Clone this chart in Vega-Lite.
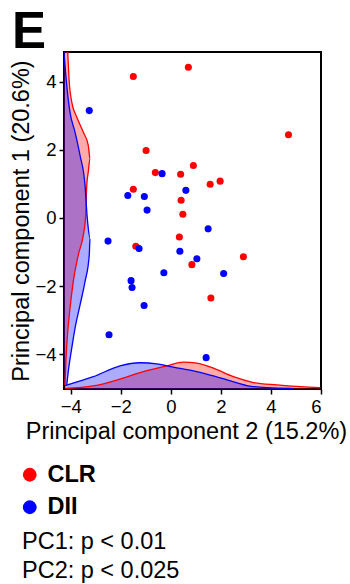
{
  "$schema": "https://vega.github.io/schema/vega-lite/v6.json",
  "autosize": "none",
  "width": 257,
  "height": 337,
  "padding": {"left": 64, "top": 52, "right": 29, "bottom": 195},
  "background": "white",
  "config": {
    "font": "Liberation Sans",
    "view": {"stroke": "black", "strokeWidth": 2},
    "axis": {"grid": false, "domain": false, "tickColor": "black", "tickWidth": 1.5, "tickSize": 5, "labelColor": "black", "labelFontSize": 18.5, "titleColor": "black", "titleFontSize": 23.5, "titleFontWeight": "normal", "labelFont": "Liberation Sans", "titleFont": "Liberation Sans"}
  },
  "title": {"text": "E", "anchor": "start", "frame": "group", "fontSize": 51, "fontWeight": "bold", "color": "black", "dx": -52, "offset": -7, "font": "Liberation Sans"},
  "datasets": {
    "pts": [
      {"group": "CLR", "pc2": -1.5, "pc1": 4.15},
      {"group": "CLR", "pc2": 0.7, "pc1": 4.42},
      {"group": "CLR", "pc2": 4.7, "pc1": 2.44},
      {"group": "CLR", "pc2": -0.99, "pc1": 1.98},
      {"group": "CLR", "pc2": 0.9, "pc1": 1.54},
      {"group": "CLR", "pc2": -0.62, "pc1": 1.33},
      {"group": "CLR", "pc2": 0.39, "pc1": 1.28},
      {"group": "CLR", "pc2": 1.57, "pc1": 0.99},
      {"group": "CLR", "pc2": 1.97, "pc1": 1.08},
      {"group": "CLR", "pc2": -1.5, "pc1": 0.84},
      {"group": "CLR", "pc2": 0.41, "pc1": 0.52},
      {"group": "CLR", "pc2": 0.48, "pc1": 0.11},
      {"group": "CLR", "pc2": 0.34, "pc1": -0.56},
      {"group": "CLR", "pc2": -1.4, "pc1": -0.83},
      {"group": "CLR", "pc2": 0.84, "pc1": -1.37},
      {"group": "CLR", "pc2": 2.9, "pc1": -1.14},
      {"group": "CLR", "pc2": 1.6, "pc1": -2.35},
      {"group": "DII", "pc2": -3.26, "pc1": 3.15},
      {"group": "DII", "pc2": -0.35, "pc1": 1.3},
      {"group": "DII", "pc2": -1.72, "pc1": 0.66},
      {"group": "DII", "pc2": -1.06, "pc1": 0.63},
      {"group": "DII", "pc2": 0.6, "pc1": 0.81},
      {"group": "DII", "pc2": -0.95, "pc1": 0.23},
      {"group": "DII", "pc2": 1.49, "pc1": -0.32},
      {"group": "DII", "pc2": -2.51, "pc1": -0.68},
      {"group": "DII", "pc2": -1.27, "pc1": -0.9},
      {"group": "DII", "pc2": 0.36, "pc1": -0.98},
      {"group": "DII", "pc2": 1.04, "pc1": -1.2},
      {"group": "DII", "pc2": -0.28, "pc1": -1.61},
      {"group": "DII", "pc2": 2.11, "pc1": -1.63},
      {"group": "DII", "pc2": -1.59, "pc1": -1.84},
      {"group": "DII", "pc2": -1.55, "pc1": -2.04},
      {"group": "DII", "pc2": -1.07, "pc1": -2.57},
      {"group": "DII", "pc2": -2.47, "pc1": -3.43},
      {"group": "DII", "pc2": 1.41, "pc1": -4.1}
    ],
    "bottom": [
      {"group": "CLR", "pc2": -4.23, "pc1": -5.0},
      {"group": "CLR", "pc2": -3.1, "pc1": -4.93},
      {"group": "CLR", "pc2": -2.03, "pc1": -4.73},
      {"group": "CLR", "pc2": -1.1, "pc1": -4.51},
      {"group": "CLR", "pc2": -0.16, "pc1": -4.34},
      {"group": "CLR", "pc2": 0.5, "pc1": -4.23},
      {"group": "CLR", "pc2": 1.04, "pc1": -4.26},
      {"group": "CLR", "pc2": 1.7, "pc1": -4.41},
      {"group": "CLR", "pc2": 2.5, "pc1": -4.66},
      {"group": "CLR", "pc2": 3.3, "pc1": -4.83},
      {"group": "CLR", "pc2": 4.24, "pc1": -4.9},
      {"group": "CLR", "pc2": 5.17, "pc1": -4.95},
      {"group": "CLR", "pc2": 5.97, "pc1": -4.98},
      {"group": "DII", "pc2": -4.23, "pc1": -4.92},
      {"group": "DII", "pc2": -3.1, "pc1": -4.66},
      {"group": "DII", "pc2": -2.03, "pc1": -4.34},
      {"group": "DII", "pc2": -1.23, "pc1": -4.25},
      {"group": "DII", "pc2": -0.56, "pc1": -4.28},
      {"group": "DII", "pc2": 0.1, "pc1": -4.38},
      {"group": "DII", "pc2": 0.9, "pc1": -4.49},
      {"group": "DII", "pc2": 1.57, "pc1": -4.61},
      {"group": "DII", "pc2": 2.24, "pc1": -4.75},
      {"group": "DII", "pc2": 3.04, "pc1": -4.92},
      {"group": "DII", "pc2": 3.84, "pc1": -4.98},
      {"group": "DII", "pc2": 4.89, "pc1": -5.0}
    ],
    "left": [
      {"group": "CLR", "pc1": 5.2, "pc2": -4.14},
      {"group": "CLR", "pc1": 4.86, "pc2": -4.12},
      {"group": "CLR", "pc1": 4.09, "pc2": -4.07},
      {"group": "CLR", "pc1": 3.4, "pc2": -3.96},
      {"group": "CLR", "pc1": 2.96, "pc2": -3.76},
      {"group": "CLR", "pc1": 2.52, "pc2": -3.5},
      {"group": "CLR", "pc1": 2.13, "pc2": -3.3},
      {"group": "CLR", "pc1": 1.74, "pc2": -3.23},
      {"group": "CLR", "pc1": 1.35, "pc2": -3.3},
      {"group": "CLR", "pc1": 0.96, "pc2": -3.36},
      {"group": "CLR", "pc1": 0.0, "pc2": -3.41},
      {"group": "CLR", "pc1": -0.51, "pc2": -3.5},
      {"group": "CLR", "pc1": -1.09, "pc2": -3.7},
      {"group": "CLR", "pc1": -1.87, "pc2": -3.9},
      {"group": "CLR", "pc1": -2.65, "pc2": -4.03},
      {"group": "CLR", "pc1": -3.34, "pc2": -4.12},
      {"group": "CLR", "pc1": -4.12, "pc2": -4.19},
      {"group": "CLR", "pc1": -4.9, "pc2": -4.23},
      {"group": "DII", "pc1": 4.86, "pc2": -4.27},
      {"group": "DII", "pc1": 3.89, "pc2": -4.16},
      {"group": "DII", "pc1": 3.1, "pc2": -4.03},
      {"group": "DII", "pc1": 2.52, "pc2": -3.83},
      {"group": "DII", "pc1": 1.84, "pc2": -3.63},
      {"group": "DII", "pc1": 0.96, "pc2": -3.43},
      {"group": "DII", "pc1": 0.0, "pc2": -3.34},
      {"group": "DII", "pc1": -0.6, "pc2": -3.23},
      {"group": "DII", "pc1": -1.09, "pc2": -3.26},
      {"group": "DII", "pc1": -1.87, "pc2": -3.43},
      {"group": "DII", "pc1": -2.56, "pc2": -3.63},
      {"group": "DII", "pc1": -3.24, "pc2": -3.83},
      {"group": "DII", "pc1": -3.82, "pc2": -3.96},
      {"group": "DII", "pc1": -4.51, "pc2": -4.1},
      {"group": "DII", "pc1": -4.9, "pc2": -4.16}
    ]
  },
  "encoding": {
    "x": {"type": "quantitative", "scale": {"domain": [-4.27, 6], "nice": false, "zero": false}, "axis": {"values": [-4, -2, 0, 2, 4, 6], "title": "Principal component 2 (15.2%)", "titleX": 122, "labelPadding": 3, "titlePadding": 4}},
    "y": {"type": "quantitative", "scale": {"domain": [-5.02, 4.87], "nice": false, "zero": false}, "axis": {"values": [-4, -2, 0, 2, 4], "title": "Principal component 1 (20.6%)", "labelPadding": 3, "titlePadding": 1}}
  },
  "layer": [
    {
      "data": {"name": "bottom"},
      "mark": {"type": "area", "opacity": 0.33, "clip": true, "interpolate": "monotone"},
      "encoding": {
        "x": {"field": "pc2", "type": "quantitative"},
        "y": {"field": "pc1", "type": "quantitative", "stack": null},
        "y2": {"datum": -5.02},
        "fill": {"field": "group", "type": "nominal", "scale": {"domain": ["DII", "CLR"], "range": ["#0000ff", "#ff0000"]}, "legend": null}
      }
    },
    {
      "data": {"name": "left"},
      "mark": {"type": "area", "orient": "horizontal", "opacity": 0.33, "clip": true, "interpolate": "monotone"},
      "encoding": {
        "x": {"field": "pc2", "type": "quantitative", "stack": null},
        "x2": {"datum": -4.27},
        "y": {"field": "pc1", "type": "quantitative"},
        "fill": {"field": "group", "type": "nominal", "scale": {"domain": ["DII", "CLR"], "range": ["#0000ff", "#ff0000"]}, "legend": null}
      }
    },
    {
      "data": {"name": "bottom"},
      "mark": {"type": "line", "strokeWidth": 1.3, "clip": true, "interpolate": "monotone"},
      "encoding": {
        "x": {"field": "pc2", "type": "quantitative"},
        "y": {"field": "pc1", "type": "quantitative"},
        "stroke": {"field": "group", "type": "nominal", "scale": {"domain": ["DII", "CLR"], "range": ["#0000ff", "#ff0000"]}, "legend": null},
        "order": {"field": "pc2", "type": "quantitative"}
      }
    },
    {
      "data": {"name": "left"},
      "mark": {"type": "line", "strokeWidth": 1.3, "clip": true, "orient": "horizontal", "interpolate": "monotone"},
      "encoding": {
        "x": {"field": "pc2", "type": "quantitative"},
        "y": {"field": "pc1", "type": "quantitative"},
        "stroke": {"field": "group", "type": "nominal", "scale": {"domain": ["DII", "CLR"], "range": ["#0000ff", "#ff0000"]}, "legend": null},
        "order": {"field": "pc1", "type": "quantitative"}
      }
    },
    {
      "data": {"name": "pts"},
      "mark": {"type": "circle", "size": 50, "opacity": 1},
      "encoding": {
        "x": {"field": "pc2", "type": "quantitative"},
        "y": {"field": "pc1", "type": "quantitative"},
        "color": {"field": "group", "type": "nominal", "scale": {"domain": ["CLR", "DII"], "range": ["#ff0000", "#0000ff"]},
          "legend": {"orient": "none", "legendX": -42, "legendY": 411, "title": ["PC1: p < 0.01", "PC2: p < 0.025"], "titleOrient": "bottom", "titleAnchor": "start", "titleFontSize": 23.5, "titleFontWeight": "normal", "titleColor": "black", "titleLineHeight": 29, "titlePadding": 11, "titleFont": "Liberation Sans", "labelFontSize": 23.5, "labelFontWeight": "bold", "labelColor": "black", "labelFont": "Liberation Sans", "symbolType": "circle", "symbolSize": 190, "symbolOffset": -4, "symbolStrokeWidth": 0, "symbolOpacity": 1, "rowPadding": 7.5, "labelOffset": 6, "padding": 0}}
      }
    }
  ]
}
